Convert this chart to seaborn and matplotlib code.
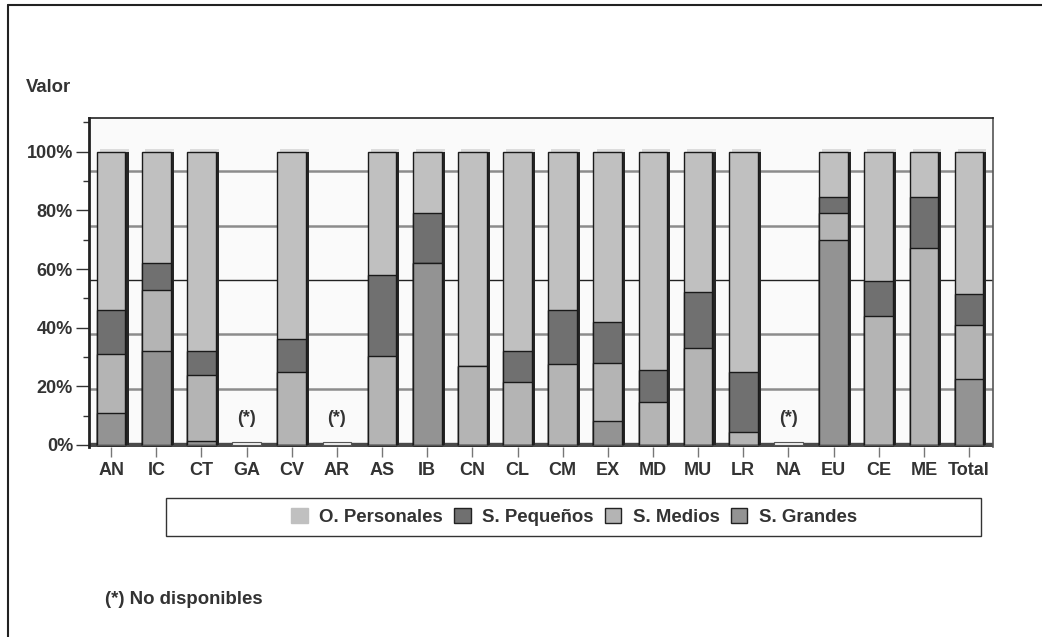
import numpy as np
import pandas as pd
import seaborn as sns
import matplotlib.pyplot as plt
import matplotlib.patheffects as pe
from matplotlib.lines import Line2D
from matplotlib.patches import Rectangle, Patch

# Datos (porcentajes, NaN = no disponible)
nan = np.nan
categorias = ["AN", "IC", "CT", "GA", "CV", "AR", "AS", "IB", "CN", "CL",
              "CM", "EX", "MD", "MU", "LR", "NA", "EU", "CE", "ME", "Total"]
s_grandes = [11, 32, 1.5, nan, 0, nan, 0, 62, 0, 0, 0, 8, 0, 0, 0, nan, 70, 0, 0, 22.5]
s_medios = [20, 21, 22.5, nan, 25, nan, 30.5, 0, 27, 21.5, 27.5, 20, 14.5, 33, 4.5, nan, 9, 44, 67, 18.5]
s_pequenos = [15, 9, 8, nan, 11, nan, 27.5, 17, 0, 10.5, 18.5, 14, 11, 19, 20.5, nan, 5.5, 12, 17.5, 10.5]
o_personales = [54, 38, 68, nan, 64, nan, 42, 21, 73, 68, 54, 58, 74.5, 48, 75, nan, 15.5, 44, 15.5, 48.5]

series = ["S. Grandes", "S. Medios", "S. Pequeños", "O. Personales"]
colores = {"O. Personales": "#c0c0c0", "S. Pequeños": "#707070",
           "S. Medios": "#b4b4b4", "S. Grandes": "#939393"}

df = pd.DataFrame({"S. Grandes": s_grandes, "S. Medios": s_medios,
                   "S. Pequeños": s_pequenos, "O. Personales": o_personales},
                  index=categorias)
acum = df[series].cumsum(axis=1)
no_disp = df["O. Personales"].isna()

sns.set_theme(style="white")
plt.rcParams["font.family"] = ["Liberation Sans", "DejaVu Sans"]
plt.rcParams["font.weight"] = "bold"
plt.rcParams["text.color"] = "#333333"

fig = plt.figure(figsize=(10.42, 6.37), dpi=100)
ax = fig.add_axes([89 / 1042, 190 / 637, 904 / 1042, 329 / 637])
ax.set_facecolor("#fafafa")

# lineas de la pared del fondo
for v in [93.3, 74.5, 37.9, 19.2]:
    ax.axhline(v, color="#8c8c8c", lw=1.8, zorder=0.5)
ax.axhline(56.3, color="#222222", lw=1, zorder=0.5)

# suelo
ax.axhspan(-0.7, 0.6, color="#4a4a4a", zorder=0.6)

# barras apiladas: de la serie acumulada mas alta a la mas baja
efecto_3d = [pe.SimplePatchShadow(offset=(2.2, 2.0), shadow_rgbFace="#dcdcdc", alpha=1),
             pe.SimplePatchShadow(offset=(2.2, 0), shadow_rgbFace="#262626", alpha=1),
             pe.Normal()]
for i, s in enumerate(reversed(series)):
    n0 = len(ax.patches)
    sns.barplot(x=categorias, y=acum[s].values, order=categorias, color=colores[s],
                saturation=1, width=0.635, edgecolor="#1a1a1a", linewidth=1,
                errorbar=None, ax=ax)
    if i == 0:
        for p in ax.patches[n0:]:
            p.set_path_effects(efecto_3d)

# marcas de "no disponible"
sns.barplot(x=categorias, y=np.where(no_disp, 0.9, 0.0), order=categorias, color="#f0f0f0",
            saturation=1, width=0.635, edgecolor="#555555", linewidth=0.8,
            errorbar=None, ax=ax)
for i, c in enumerate(categorias):
    if no_disp[c]:
        ax.text(i, 9, "(*)", ha="center", va="center", fontsize=13, fontweight="bold")

ax.set_xlim(-0.49, 19.53)
ax.set_ylim(-0.7, 111.5)
ax.set_yticks(range(0, 101, 20))
ax.set_yticklabels([f"{v}%" for v in range(0, 101, 20)])
ax.set_yticks(range(10, 111, 20), minor=True)
ax.tick_params(axis="y", which="major", left=True, length=9.5, width=1, color="#333333",
               pad=2, labelsize=13, labelcolor="#333333")
ax.tick_params(axis="y", which="minor", left=True, length=4.5, width=1, color="#333333")
ax.tick_params(axis="x", bottom=True, length=7.5, width=1, color="#777777", pad=3,
               labelsize=13, labelcolor="#333333")
ax.set_xlabel("")
ax.set_ylabel("")
ax.grid(False)
for side, (lw, col) in {"left": (2, "#222222"), "top": (1.2, "#222222"),
                        "right": (1.2, "#555555")}.items():
    ax.spines[side].set_linewidth(lw)
    ax.spines[side].set_color(col)
ax.spines["bottom"].set_visible(False)

fig.text(26 / 1042, 1 - 87 / 637, "Valor", ha="left", va="center", fontsize=13.3)

# leyenda dentro de un recuadro ancho
fig.add_artist(Rectangle((166 / 1042, 1 - 536 / 637), 815 / 1042, 38 / 637,
                         transform=fig.transFigure, fill=False, edgecolor="#333333", lw=1))
handles = [Patch(facecolor=colores[s], edgecolor=("#c0c0c0" if s == "O. Personales" else "#222222"), lw=1)
           for s in reversed(series)]
fig.legend(handles, list(reversed(series)), loc="center",
           bbox_to_anchor=(574 / 1042, 1 - 517 / 637), ncol=4, frameon=False,
           handlelength=0.9, handleheight=0.9, handletextpad=0.6, columnspacing=0.6,
           prop={"size": 13.4, "weight": "bold"})

fig.text(105 / 1042, 1 - 600 / 637, "(*) No disponibles", ha="left", va="center", fontsize=13.4)

# marco exterior
fig.add_artist(Line2D([8 / 1042, 1], [1 - 4.5 / 637] * 2, color="#222222", lw=1.5))
fig.add_artist(Line2D([8 / 1042] * 2, [0, 1 - 4.5 / 637], color="#222222", lw=1.5))

fig.savefig("out.png", dpi=100, facecolor="white")
